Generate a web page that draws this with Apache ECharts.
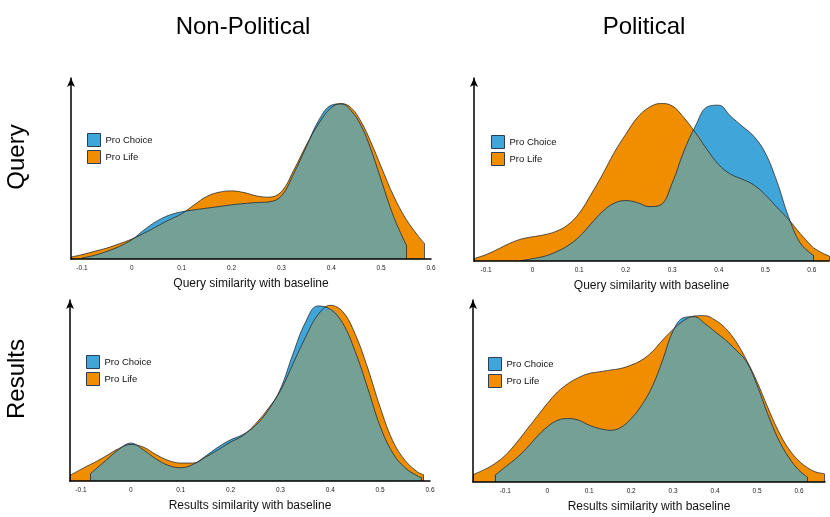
<!DOCTYPE html>
<html>
<head>
<meta charset="utf-8">
<script src="https://cdn.jsdelivr.net/npm/echarts@6/dist/echarts.min.js"></script>
<style>
  html, body { margin: 0; padding: 0; background: #fff; }
  #main { width: 830px; height: 517px; }
</style>
</head>
<body>
<div id="main"></div>
<script>
// density estimates, one x grid per panel
// null = outside the range of that group's data

// Non-Political / Query
var xNonQuery = [-0.122, -0.1, -0.075, -0.05, -0.025, 0, 0.025, 0.05, 0.075, 0.1, 0.125, 0.15, 0.175, 0.2, 0.225, 0.25, 0.275, 0.3, 0.325, 0.35, 0.375, 0.4, 0.42, 0.44, 0.46, 0.48, 0.5, 0.525, 0.55, 0.575, 0.586];
var lifeNonQuery = [0.06, 0.13, 0.23, 0.33, 0.46, 0.60, 0.78, 0.98, 1.18, 1.36, 1.63, 1.88, 2.01, 2.05, 2.00, 1.90, 1.86, 2.03, 2.68, 3.43, 4.08, 4.56, 4.68, 4.55, 4.13, 3.50, 2.78, 1.90, 1.20, 0.68, 0.48];
var choiceNonQuery = [null, 0.03, 0.11, 0.23, 0.38, 0.58, 0.88, 1.14, 1.32, 1.42, 1.48, 1.53, 1.58, 1.63, 1.67, 1.70, 1.72, 1.90, 2.58, 3.38, 4.18, 4.63, 4.67, 4.46, 4.01, 3.28, 2.38, 1.28, 0.43, null, null];

// Political / Query
var xPolQuery = [-0.126, -0.1, -0.075, -0.05, -0.025, 0, 0.025, 0.05, 0.075, 0.1, 0.125, 0.15, 0.175, 0.2, 0.225, 0.25, 0.275, 0.3, 0.325, 0.35, 0.375, 0.4, 0.425, 0.45, 0.475, 0.5, 0.525, 0.55, 0.575, 0.6, 0.604, 0.625, 0.637];
var lifePolQuery = [0.07, 0.19, 0.35, 0.52, 0.65, 0.72, 0.78, 0.88, 1.07, 1.42, 1.97, 2.57, 3.22, 3.77, 4.27, 4.57, 4.69, 4.62, 4.27, 3.82, 3.32, 2.87, 2.59, 2.44, 2.27, 1.97, 1.60, 1.24, 0.82, 0.44, 0.39, 0.22, 0.15];
var choicePolQuery = [null, null, null, null, 0.01, 0.07, 0.14, 0.27, 0.45, 0.72, 1.10, 1.47, 1.72, 1.80, 1.74, 1.62, 1.67, 2.32, 3.27, 4.02, 4.59, 4.64, 4.32, 4.02, 3.72, 3.22, 2.37, 1.32, 0.54, 0.20, 0.17, null, null];

// Non-Political / Results
var xNonResults = [-0.122, -0.1, -0.081, -0.075, -0.05, -0.025, 0, 0.025, 0.05, 0.075, 0.1, 0.125, 0.15, 0.175, 0.2, 0.225, 0.25, 0.275, 0.3, 0.325, 0.35, 0.375, 0.4, 0.425, 0.45, 0.475, 0.5, 0.525, 0.55, 0.575, 0.583, 0.587];
var lifeNonResults = [0.17, 0.35, 0.50, 0.54, 0.75, 0.97, 1.10, 1.02, 0.80, 0.62, 0.54, 0.54, 0.72, 0.94, 1.17, 1.37, 1.72, 2.17, 2.72, 3.52, 4.32, 5.00, 5.29, 5.10, 4.42, 3.40, 2.22, 1.22, 0.62, 0.27, 0.21, 0.19];
var choiceNonResults = [null, null, 0.22, 0.30, 0.62, 0.94, 1.14, 0.94, 0.67, 0.47, 0.40, 0.50, 0.75, 1.02, 1.24, 1.40, 1.67, 2.12, 2.77, 3.82, 4.77, 5.27, 5.17, 4.75, 3.90, 2.80, 1.65, 0.85, 0.40, 0.15, 0.10, null];

// Political / Results
var xPolResults = [-0.177, -0.15, -0.125, -0.1, -0.075, -0.05, -0.025, 0, 0.025, 0.05, 0.075, 0.1, 0.125, 0.15, 0.175, 0.2, 0.225, 0.25, 0.275, 0.3, 0.325, 0.35, 0.375, 0.4, 0.425, 0.45, 0.475, 0.5, 0.525, 0.55, 0.575, 0.6, 0.62, 0.64, 0.66];
var lifePolResults = [0.22, 0.37, 0.55, 0.80, 1.15, 1.55, 1.95, 2.35, 2.70, 2.95, 3.13, 3.25, 3.30, 3.35, 3.40, 3.50, 3.65, 3.90, 4.25, 4.57, 4.83, 4.97, 4.98, 4.85, 4.60, 4.20, 3.65, 3.00, 2.25, 1.55, 1.00, 0.63, 0.43, 0.30, 0.25];
var choicePolResults = [null, null, 0.20, 0.45, 0.70, 1.00, 1.35, 1.65, 1.85, 1.90, 1.85, 1.70, 1.60, 1.55, 1.63, 1.90, 2.30, 2.85, 3.65, 4.53, 4.92, 4.95, 4.75, 4.50, 4.25, 3.95, 3.60, 2.90, 2.05, 1.30, 0.75, 0.35, 0.15, null, null];

var colTitles = ['Non-Political', 'Political'];
var rowTitles = ['Query', 'Results'];
var groups = ['Pro Choice', 'Pro Life'];

var blue = '#40a6d9';
var orange = '#f18e00';
var both = '#74a096';
var edge = '#2b2b2b';
var font = '"Liberation Sans", Arial, Helvetica, sans-serif';

var panels = [
    {x: xNonQuery, choice: choiceNonQuery, life: lifeNonQuery, axisName: 'Query similarity with baseline',
        grid: {left: 71, top: 78, width: 360, height: 181}, min: -0.122, max: 0.6, legend: {left: 87, top: 133}},
    {x: xPolQuery, choice: choicePolQuery, life: lifePolQuery, axisName: 'Query similarity with baseline',
        grid: {left: 474, top: 78, width: 355, height: 183}, min: -0.126, max: 0.637, legend: {left: 491, top: 135}},
    {x: xNonResults, choice: choiceNonResults, life: lifeNonResults, axisName: 'Results similarity with baseline',
        grid: {left: 70, top: 300, width: 360, height: 181}, min: -0.122, max: 0.6, legend: {left: 86, top: 355}},
    {x: xPolResults, choice: choicePolResults, life: lifePolResults, axisName: 'Results similarity with baseline',
        grid: {left: 473, top: 300, width: 352, height: 182}, min: -0.177, max: 0.662, legend: {left: 488, top: 357}}
];

function pairs(xs, ys) {
    var out = [];
    for (var i = 0; i < xs.length; i++) {
        if (ys[i] != null) out.push([xs[i], ys[i]]);
    }
    return out;
}

// where both groups have density: the shared (lower) part
function shared(xs, a, b) {
    var out = [];
    for (var i = 0; i < xs.length; i++) {
        if (a[i] != null && b[i] != null) out.push([xs[i], Math.min(a[i], b[i])]);
    }
    return out;
}

// outline the cut-off ends of a curve
function endEdges(pts) {
    var first = pts[0], last = pts[pts.length - 1];
    return [
        [{coord: [first[0], 0]}, {coord: first}],
        [{coord: [last[0], 0]}, {coord: last}]
    ];
}

function tickLabel(v) {
    if (Math.abs(v * 10 - Math.round(v * 10)) > 1e-6) return '';
    var r = Math.round(v * 10) / 10;
    return String(r);
}

var grids = [], xAxes = [], yAxes = [], legends = [], series = [];

panels.forEach(function(p, i) {
    grids.push(p.grid);

    xAxes.push({
        type: 'value', gridIndex: i, min: p.min, max: p.max,
        minInterval: 0.1, maxInterval: 0.1, z: 10,
        name: p.axisName, nameLocation: 'middle', nameGap: 19,
        nameTextStyle: {fontSize: 12, color: '#111', fontFamily: font},
        axisLine: {onZero: false, lineStyle: {color: '#000', width: 1.5}},
        axisTick: {show: false},
        splitLine: {show: false},
        axisLabel: {fontSize: 6.5, color: '#222', margin: 6, fontFamily: font, formatter: tickLabel,
            showMinLabel: false, showMaxLabel: p.max === 0.6}
    });

    yAxes.push({
        type: 'value', gridIndex: i, min: 0, max: 5.45, z: 10,
        axisLine: {show: true, onZero: false, symbol: ['none', 'arrow'], symbolSize: [6, 9],
            lineStyle: {color: '#000', width: 1.5}},
        axisTick: {show: false},
        axisLabel: {show: false},
        splitLine: {show: false}
    });

    legends.push({
        left: p.legend.left, top: p.legend.top, orient: 'vertical', padding: 0,
        itemWidth: 13, itemHeight: 13, itemGap: 3, icon: 'rect',
        textStyle: {fontSize: 9.5, color: '#111', fontFamily: font},
        data: [
            {name: groups[0], itemStyle: {color: blue, borderColor: '#2c3e55', borderWidth: 1}},
            {name: groups[1], itemStyle: {color: orange, borderColor: '#2c3e55', borderWidth: 1}}
        ]
    });

    var lifePts = pairs(p.x, p.life);
    var choicePts = pairs(p.x, p.choice);
    var bothPts = shared(p.x, p.choice, p.life);

    function area(name, data, color) {
        return {
            type: 'line', name: name, xAxisIndex: i, yAxisIndex: i, data: data,
            smooth: 0.4, showSymbol: false, silent: true,
            itemStyle: {color: color},
            lineStyle: {width: 0, opacity: 0},
            areaStyle: {color: color, opacity: 1}
        };
    }

    function outline(name, data) {
        return {
            type: 'line', name: name, xAxisIndex: i, yAxisIndex: i, data: data,
            smooth: 0.4, showSymbol: false, silent: true,
            lineStyle: {color: edge, width: 0.8},
            markLine: {
                silent: true, symbol: ['none', 'none'], label: {show: false},
                lineStyle: {color: edge, width: 0.8, type: 'solid'},
                data: endEdges(data)
            }
        };
    }

    series.push(area(groups[1], lifePts, orange));
    series.push(area(groups[0], choicePts, blue));
    series.push(area('shared' + i, bothPts, both));
    series.push(outline('lifeEdge' + i, lifePts));
    series.push(outline('choiceEdge' + i, choicePts));
});

var labels = [
    {type: 'text', x: 243, y: 27, style: {text: colTitles[0], fontSize: 24, fontFamily: font, fill: '#000', align: 'center', verticalAlign: 'middle'}},
    {type: 'text', x: 644, y: 27, style: {text: colTitles[1], fontSize: 24, fontFamily: font, fill: '#000', align: 'center', verticalAlign: 'middle'}},
    {type: 'text', x: 17, y: 157, rotation: Math.PI / 2, style: {text: rowTitles[0], fontSize: 24, fontFamily: font, fill: '#000', align: 'center', verticalAlign: 'middle'}},
    {type: 'text', x: 17, y: 379, rotation: Math.PI / 2, style: {text: rowTitles[1], fontSize: 24, fontFamily: font, fill: '#000', align: 'center', verticalAlign: 'middle'}}
];

var myChart = echarts.init(document.getElementById('main'));

myChart.setOption({
    animation: false,
    backgroundColor: '#fff',
    grid: grids,
    xAxis: xAxes,
    yAxis: yAxes,
    legend: legends,
    graphic: labels,
    series: series
});
</script>
</body>
</html>
